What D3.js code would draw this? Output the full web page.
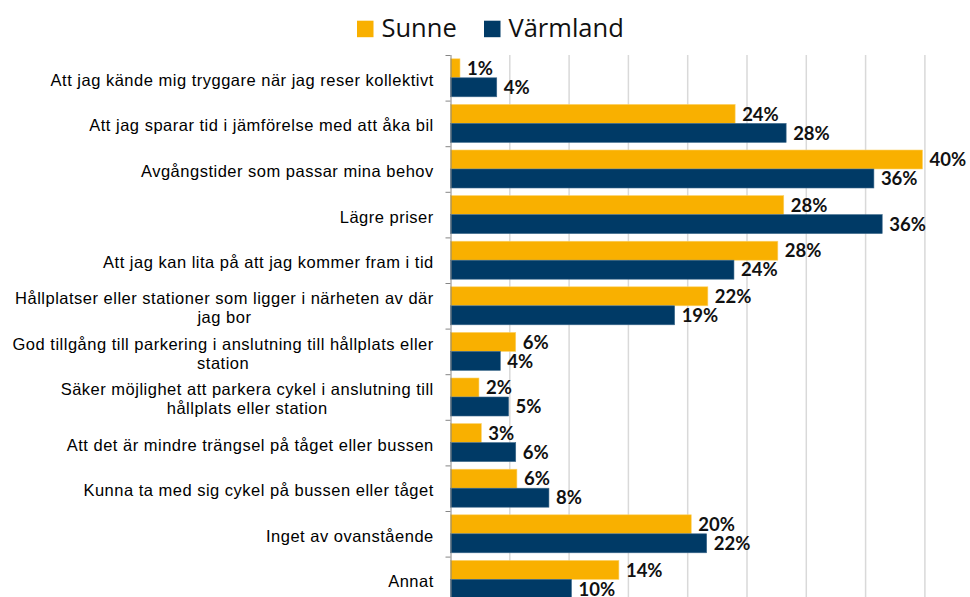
<!DOCTYPE html>
<html lang="sv">
<head>
  <meta charset="UTF-8">
  <title>Sunne och Värmland</title>
  <script src="https://cdn.jsdelivr.net/npm/d3@7"></script>
  <style>
    body { margin: 0; background: #fff; }
    .cat { font-family: "Liberation Sans", Arial, sans-serif; font-size: 16.5px; letter-spacing: 0.5px; fill: #000; }
    .val { font-family: Lato, "Open Sans", sans-serif; font-weight: bold; font-size: 18.5px; fill: #111; }
    .legend text { font-family: "Open Sans", sans-serif; font-size: 25.5px; fill: #111; }
  </style>
</head>
<body>
<script>
  // categories (line breaks as in the original)
  var categories = [
    "Att jag kände mig tryggare när jag reser kollektivt",
    "Att jag sparar tid i jämförelse med att åka bil",
    "Avgångstider som passar mina behov",
    "Lägre priser",
    "Att jag kan lita på att jag kommer fram i tid",
    "Hållplatser eller stationer som ligger i närheten av där\njag bor",
    "God tillgång till parkering i anslutning till hållplats eller\nstation",
    "Säker möjlighet att parkera cykel i anslutning till\nhållplats eller station",
    "Att det är mindre trängsel på tåget eller bussen",
    "Kunna ta med sig cykel på bussen eller tåget",
    "Inget av ovanstående",
    "Annat"
  ];

  var seriesNames = ["Sunne", "Värmland"];
  var seriesColors = ["#F9B000", "#003A66"];

  // percent values
  var sunne    = [0.8, 24.0, 39.8, 28.1, 27.6, 21.7, 5.5, 2.4, 2.6, 5.6, 20.3, 14.2];
  var varmland = [3.9, 28.3, 35.7, 36.4, 23.9, 18.9, 4.2, 4.9, 5.5, 8.3, 21.6, 10.2];

  var gridTicks = [5, 10, 15, 20, 25, 30, 35, 40, 45];

  var width = 970, height = 597;

  var svg = d3.select("body").append("svg")
      .attr("width", width)
      .attr("height", height);

  // scales
  var x = d3.scaleLinear().domain([0, 45]).range([450.5, 984.2]);
  var y = d3.scaleBand().domain(categories).range([55, 55 + 12 * 45.6]).paddingInner(0);
  var ySub = d3.scaleBand().domain(seriesNames).range([3.8, y.bandwidth() - 3.8]);

  // gridlines
  svg.append("g").selectAll("line")
      .data(gridTicks)
    .enter().append("line")
      .attr("x1", function(d) { return x(d); })
      .attr("x2", function(d) { return x(d); })
      .attr("y1", 55)
      .attr("y2", height)
      .attr("stroke", "#d9d9d9")
      .attr("stroke-width", 1.5);

  // bars
  var rows = categories.map(function(c, i) {
    return { cat: c, vals: [sunne[i], varmland[i]] };
  });

  var group = svg.append("g").selectAll("g")
      .data(rows)
    .enter().append("g")
      .attr("transform", function(d) { return "translate(0," + y(d.cat) + ")"; });

  group.selectAll("rect")
      .data(function(d) { return d.vals.map(function(v, j) { return { s: seriesNames[j], v: v, j: j }; }); })
    .enter().append("rect")
      .attr("x", x(0))
      .attr("y", function(d) { return ySub(d.s); })
      .attr("width", function(d) { return x(d.v) - x(0); })
      .attr("height", ySub.bandwidth())
      .attr("fill", function(d) { return seriesColors[d.j]; })
      .attr("stroke", function(d) { return d.j === 0 ? "#fcd36a" : "#3f6a8c"; })
      .attr("stroke-width", 0.6);

  // value labels
  group.selectAll("text.val")
      .data(function(d) { return d.vals.map(function(v, j) { return { s: seriesNames[j], v: v }; }); })
    .enter().append("text")
      .attr("class", "val")
      .attr("x", function(d) { return x(d.v) + 7; })
      .attr("y", function(d) { return ySub(d.s) + ySub.bandwidth() / 2; })
      .attr("dy", "0.36em")
      .text(function(d) { return Math.round(d.v) + "%"; });

  // category axis
  var yAxis = d3.axisLeft(y).tickSize(0).tickFormat("");
  svg.append("g")
      .attr("transform", "translate(" + x(0) + ",0)")
      .call(yAxis)
      .call(function(g) { g.select(".domain").attr("stroke", "#868686").attr("d", "M0.5,55V" + height); });

  // tick marks at band boundaries
  svg.append("g").selectAll("line")
      .data(categories)
    .enter().append("line")
      .attr("x1", x(0) - 5)
      .attr("x2", x(0))
      .attr("y1", function(d) { return y(d) + 0.5; })
      .attr("y2", function(d) { return y(d) + 0.5; })
      .attr("stroke", "#868686");

  // category labels, centred lines, right aligned block
  var labelRight = 433.5;
  svg.append("g").selectAll("text")
      .data(categories)
    .enter().append("text")
      .attr("class", "cat")
      .each(function(d) {
        var lines = d.split("\n");
        var t = d3.select(this);
        var cy = y(d) + y.bandwidth() / 2 + 2;
        var lh = 19;
        var tspans = lines.map(function(line, k) {
          return t.append("tspan")
            .attr("y", cy + (k - (lines.length - 1) / 2) * lh)
            .attr("dy", "0.36em")
            .text(line);
        });
        // letter-spacing adds a trailing gap; trim it from the measured width
        var widths = tspans.map(function(ts) { return ts.node().getComputedTextLength() - 0.5; });
        var maxW = d3.max(widths);
        tspans.forEach(function(ts) {
          ts.attr("x", labelRight - maxW / 2).attr("text-anchor", "middle");
        });
      });

  // legend
  var legend = svg.append("g").attr("class", "legend");
  var legendX = [357, 484];
  seriesNames.forEach(function(name, i) {
    legend.append("rect")
      .attr("x", legendX[i])
      .attr("y", 20.7)
      .attr("width", 16.5)
      .attr("height", 16.5)
      .attr("fill", seriesColors[i]);
    legend.append("text")
      .attr("x", legendX[i] + 24.5)
      .attr("y", 36.7)
      .text(name);
  });
</script>
</body>
</html>
